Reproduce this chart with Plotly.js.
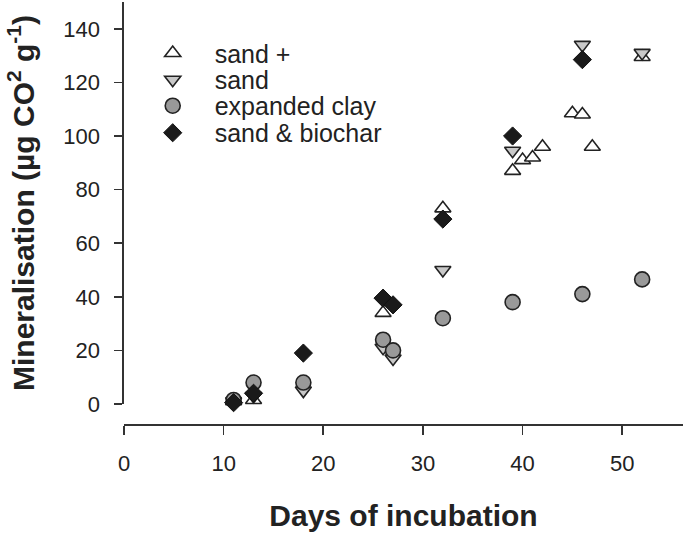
<!DOCTYPE html>
<html>
<head>
<meta charset="utf-8">
<script src="https://cdn.plot.ly/plotly-3.0.1.min.js"></script>
<style>
  html, body { margin: 0; padding: 0; background: #fff; }
  #chart { width: 685px; height: 536px; }
</style>
</head>
<body>
<div id="chart"></div>
<script>
// ---- data ----
const seriesNames = ["sand +", "sand", "expanded clay", "sand & biochar"];

const sandPlusDays = [11, 13, 26, 32, 39, 40, 41, 42, 45, 46, 47, 52];
const sandPlusVals = [1, 1.5, 34, 73, 87, 91, 92, 96, 108.5, 108, 96, 129.5];

const sandDays = [11, 13, 18, 26, 27, 32, 39, 46, 52];
const sandVals = [1, 3, 5, 21, 17, 50, 94.5, 134, 131];

const clayDays = [11, 13, 18, 26, 27, 32, 39, 46, 52];
const clayVals = [1.5, 8, 8, 24, 20, 32, 38, 41, 46.5];

const biocharDays = [11, 13, 18, 26, 27, 32, 39, 46];
const biocharVals = [0.5, 4, 19, 39.5, 37, 69, 100, 128.5];

const xTickVals = [0, 10, 20, 30, 40, 50];
const yTickVals = [0, 20, 40, 60, 80, 100, 120, 140];

const FONT = '"Liberation Sans", Arial, Helvetica, sans-serif';
const INK = '#222222';

const traces = [
  {
    name: seriesNames[0], x: sandPlusDays, y: sandPlusVals, type: 'scatter', mode: 'markers',
    legend: 'legend',
    marker: { symbol: 'triangle-up', size: 14, color: '#ffffff', line: { color: INK, width: 1.6 } },
    cliponaxis: false
  },
  {
    name: seriesNames[1], x: sandDays, y: sandVals, type: 'scatter', mode: 'markers',
    legend: 'legend2',
    marker: { symbol: 'triangle-down', size: 14, color: '#c8c8c8', line: { color: INK, width: 1.6 } },
    cliponaxis: false
  },
  {
    name: seriesNames[2], x: clayDays, y: clayVals, type: 'scatter', mode: 'markers',
    legend: 'legend3',
    marker: { symbol: 'circle', size: 15, color: '#999999', line: { color: INK, width: 1.6 } },
    cliponaxis: false
  },
  {
    name: seriesNames[3], x: biocharDays, y: biocharVals, type: 'scatter', mode: 'markers',
    legend: 'legend4',
    marker: { symbol: 'diamond', size: 14, color: '#1a1a1a', line: { color: '#111111', width: 1 } },
    cliponaxis: false
  }
];

function leg(yPos) {
  return {
    x: 0.012, y: yPos, xanchor: 'left', yanchor: 'middle',
    bgcolor: 'rgba(0,0,0,0)', borderwidth: 0, itemwidth: 74,
    font: { family: FONT, size: 25, color: INK },
    itemclick: false, itemdoubleclick: false
  };
}

const layout = {
  width: 685, height: 536,
  margin: { l: 124, r: 2, t: 2, b: 112, pad: 0 },
  paper_bgcolor: '#ffffff', plot_bgcolor: '#ffffff',
  font: { family: FONT, color: INK },
  showlegend: true,
  legend: leg(0.8784),
  legend2: leg(0.8152),
  legend3: leg(0.7536),
  legend4: leg(0.6896),
  xaxis: {
    range: [0, 56.1], domain: [0, 1], anchor: 'free', position: 0,
    showgrid: false, zeroline: false,
    showline: true, linecolor: '#333333', linewidth: 1.6,
    ticks: 'outside', ticklen: 9, tickwidth: 1.6, tickcolor: '#333333',
    tickvals: xTickVals, ticktext: xTickVals.map(String),
    tickfont: { family: FONT, size: 22, color: INK },
    ticklabelstandoff: 10,
    title: { text: 'Days of incubation', font: { family: FONT, size: 30, color: INK, weight: 'bold' }, standoff: 30 },
    automargin: false
  },
  yaxis: {
    range: [0, 150], domain: [0.0474, 1], anchor: 'x',
    showgrid: false, zeroline: false,
    showline: true, linecolor: '#333333', linewidth: 1.6,
    ticks: 'outside', ticklen: 8, tickwidth: 1.6, tickcolor: '#333333',
    tickvals: yTickVals, ticktext: yTickVals.map(String),
    tickfont: { family: FONT, size: 22, color: INK },
    ticklabelstandoff: 10,
    title: { text: 'Mineralisation (µg CO<sup>2</sup> g<sup>-1</sup>)', font: { family: FONT, size: 30, color: INK, weight: 'bold' }, standoff: 20 },
    automargin: false
  }
};

Plotly.newPlot('chart', traces, layout, { displayModeBar: false, staticPlot: true });
</script>
</body>
</html>
